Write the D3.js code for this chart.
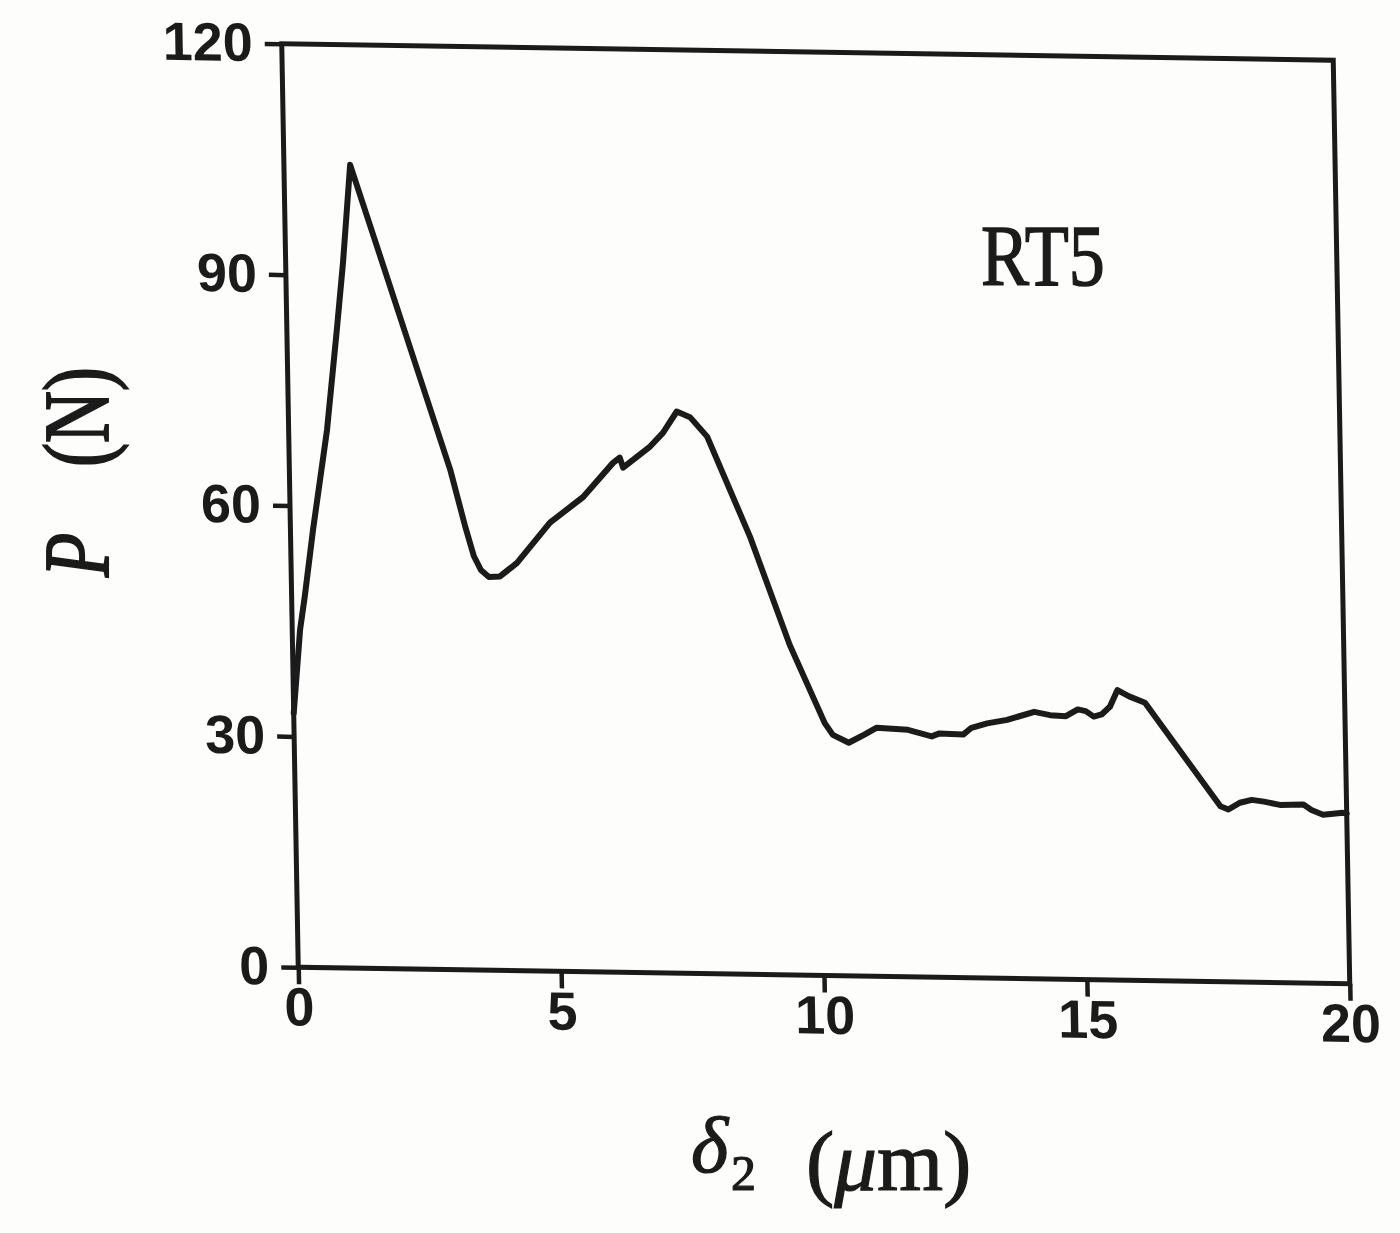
<!DOCTYPE html>
<html>
<head>
<meta charset="utf-8">
<script src="https://cdn.jsdelivr.net/npm/d3@7"></script>
<style>
  html, body { margin: 0; padding: 0; background: #fdfdfb; }
  svg { display: block; }
</style>
</head>
<body>
<script>
// ---- data ----
const xValues = [0.00, 0.15, 0.25, 0.43, 0.73, 0.95, 1.09, 1.26, 1.85, 2.46, 3.06, 3.32, 3.48, 3.61, 3.76, 3.97,
  4.30, 4.94, 5.58, 6.16, 6.29, 6.35, 6.87, 7.12, 7.39, 7.64, 7.96, 8.74, 9.46, 10.10, 10.25, 10.55,
  10.85, 11.08, 11.68, 12.13, 12.28, 12.73, 12.89, 13.19, 13.57, 14.09, 14.39, 14.69, 14.92, 15.07,
  15.22, 15.37, 15.53, 15.68, 15.90, 16.20, 17.60, 17.75, 17.97, 18.20, 18.43, 18.73, 19.18, 19.33,
  19.55, 19.93, 20.00];
const pValues = [33.0, 43.9, 48.2, 56.9, 69.9, 82.9, 91.6, 104.4, 91.5, 78.1, 65.0, 57.8, 53.8, 52.0, 51.1, 51.2,
  53.0, 58.3, 61.7, 66.2, 66.9, 65.6, 68.4, 70.2, 73.0, 72.3, 69.8, 56.9, 42.9, 32.8, 31.3, 30.3,
  31.4, 32.3, 32.1, 31.3, 31.7, 31.6, 32.5, 33.1, 33.6, 34.7, 34.3, 34.2, 35.1, 34.9,
  34.2, 34.5, 35.5, 37.7, 36.9, 36.1, 22.8, 22.4, 23.3, 23.7, 23.5, 23.1, 23.2, 22.5,
  21.9, 22.2, 22.1];
const xTicks = [0, 5, 10, 15, 20];
const yTicks = [0, 30, 60, 90, 120];
const sampleLabel = "RT5";

// ---- layout ----
const W = 1400, H = 1233;
const plotW = 1051.5, plotH = 923.5;
const ink = "#1b1b1b";

const svg = d3.select("body").append("svg")
  .attr("width", W).attr("height", H);
svg.append("rect").attr("width", W).attr("height", H).attr("fill", "#fdfdfb");

// scanned figure is slightly skewed: use an affine matrix for the plot group
const g = svg.append("g")
  .attr("transform", "matrix(1,0.01569,0.01787,1,281.75,43.75)");

const x = d3.scaleLinear().domain([0, 20]).range([0, plotW]);
const y = d3.scaleLinear().domain([0, 120]).range([plotH, 0]);

// frame
g.append("rect")
  .attr("x", 0).attr("y", 0).attr("width", plotW).attr("height", plotH)
  .attr("fill", "none").attr("stroke", ink).attr("stroke-width", 5);

const tickFont = "'Liberation Sans', Arial, sans-serif";

const yAxis = g.append("g")
  .call(d3.axisLeft(y).tickValues(yTicks).tickSize(17).tickPadding(12).tickFormat(d3.format("d")));
const xAxis = g.append("g")
  .attr("transform", `translate(0,${plotH})`)
  .call(d3.axisBottom(x).tickValues(xTicks).tickSize(17).tickPadding(3).tickFormat(d3.format("d")));

[yAxis, xAxis].forEach(ax => {
  ax.select(".domain").remove();
  ax.selectAll(".tick line").attr("stroke", ink).attr("stroke-width", 4.5);
  ax.selectAll(".tick text")
    .attr("fill", ink)
    .style("font-family", tickFont)
    .style("font-weight", "bold")
    .style("font-size", "54px");
});

// data line
const pts = xValues.map((v, i) => [v, pValues[i]]);
const line = d3.line().x(d => x(d[0])).y(d => y(d[1]));
g.append("path")
  .datum(pts)
  .attr("d", line)
  .attr("fill", "none")
  .attr("stroke", ink)
  .attr("stroke-width", 6)
  .attr("stroke-linejoin", "round")
  .attr("stroke-linecap", "round");

const serif = "'Liberation Serif', 'Times New Roman', serif";

// sample label
svg.append("text")
  .attr("transform", "translate(981,285) scale(1.03,1.24)")
  .attr("fill", ink)
  .attr("stroke", ink).attr("stroke-width", 1.2)
  .style("font-family", serif)
  .style("font-size", "70px")
  .text(sampleLabel);

// x-axis title: δ2 (μm)
const xt = svg.append("text")
  .attr("fill", ink)
  .attr("stroke", ink).attr("stroke-width", 1.2)
  .style("font-family", serif);
xt.append("tspan").attr("x", 691).attr("y", 1172)
  .style("font-style", "italic").style("font-size", "80px").text("δ");
xt.append("tspan").attr("x", 731).attr("y", 1190)
  .style("font-size", "50px").text("2");
xt.append("tspan").attr("x", 806).attr("y", 1190)
  .style("font-size", "85px").text("(");
xt.append("tspan")
  .style("font-size", "85px").style("font-style", "italic").text("μ");
xt.append("tspan")
  .style("font-size", "85px").text("m)");

// y-axis title: P (N)
const yt = svg.append("text")
  .attr("transform", "translate(108,577) rotate(-90) scale(1,1.28)")
  .attr("fill", ink)
  .attr("stroke", ink).attr("stroke-width", 1.5)
  .style("font-family", serif)
  .style("font-size", "72px");
yt.append("tspan").attr("x", 0).style("font-style", "italic").text("P");
yt.append("tspan").attr("x", 110).text("(N)");
</script>
</body>
</html>
